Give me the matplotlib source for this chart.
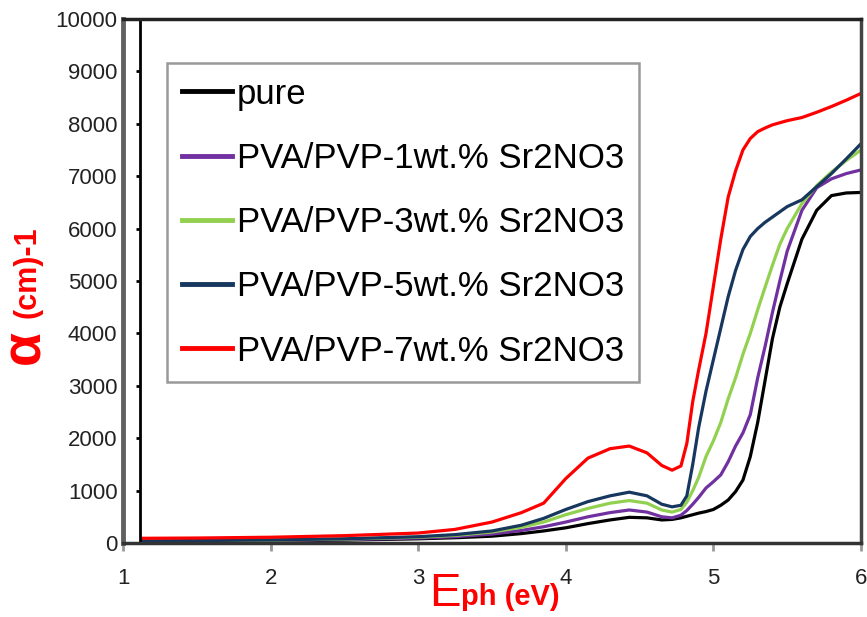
import matplotlib
matplotlib.use("Agg")
import matplotlib.pyplot as plt

plt.rcParams['font.family'] = ['Liberation Sans', 'DejaVu Sans']

# photon energy (eV)
energy = [1.13, 1.5, 2.0, 2.5, 3.0, 3.25, 3.5, 3.7, 3.85, 4.0, 4.15, 4.3, 4.43,
          4.55, 4.65, 4.72, 4.78, 4.82, 4.86, 4.9, 4.95, 5.0, 5.05, 5.1, 5.15,
          5.2, 5.25, 5.3, 5.35, 5.4, 5.45, 5.5, 5.6, 5.7, 5.8, 5.9, 6.0]

pure = [25, 30, 40, 55, 80, 100, 130, 180, 230, 290, 370, 440, 490,
        480, 440, 450, 480, 510, 540, 570, 600, 640, 720, 820, 980,
        1200, 1650, 2300, 3100, 3900, 4500, 4950, 5800, 6350, 6630, 6680, 6690]

wt1 = [30, 35, 50, 65, 95, 120, 170, 240, 310, 400, 500, 580, 630,
       590, 500, 480, 530, 620, 740, 870, 1050, 1170, 1300, 1550, 1850,
       2100, 2450, 3150, 3750, 4400, 5000, 5570, 6350, 6780, 6950, 7050, 7120]

wt3 = [35, 40, 55, 75, 110, 145, 210, 300, 400, 540, 660, 760, 810,
       760, 630, 590, 640, 780, 1000, 1250, 1650, 1950, 2300, 2750, 3150,
       3600, 4000, 4450, 4880, 5300, 5700, 6000, 6480, 6820, 7080, 7300, 7500]

wt5 = [40, 45, 60, 80, 120, 160, 230, 340, 470, 640, 790, 900, 970,
       900, 740, 690, 720, 900, 1500, 2200, 2900, 3500, 4100, 4700, 5200,
       5600, 5850, 6000, 6120, 6220, 6320, 6420, 6550, 6800, 7050, 7330, 7620]

wt7 = [90, 95, 110, 140, 190, 260, 400, 580, 760, 1230, 1620, 1800, 1850,
       1720, 1480, 1390, 1470, 1900, 2700, 3300, 4000, 4900, 5800, 6600, 7100,
       7500, 7720, 7850, 7920, 7980, 8020, 8060, 8120, 8220, 8330, 8450, 8580]

labels = ["pure", "PVA/PVP-1wt.% Sr2NO3", "PVA/PVP-3wt.% Sr2NO3",
          "PVA/PVP-5wt.% Sr2NO3", "PVA/PVP-7wt.% Sr2NO3"]
colors = ["#000000", "#7030A0", "#92D050", "#17375E", "#FF0000"]

x_ticks = [1, 2, 3, 4, 5, 6]
y_ticks = [0, 1000, 2000, 3000, 4000, 5000, 6000, 7000, 8000, 9000, 10000]

fig = plt.figure(figsize=(8.67, 6.17), dpi=100)
ax = fig.add_axes([123 / 867, 74 / 617, 738 / 867, 524 / 617])

for series, lab, col in zip([pure, wt1, wt3, wt5, wt7], labels, colors):
    ax.plot(energy, series, color=col, lw=2.3, label=lab)

ax.set_xlim(1, 6)
ax.set_ylim(0, 10000)
ax.set_xticks(x_ticks)
ax.set_yticks(y_ticks)
ax.tick_params(axis='x', direction='out', length=6, width=2, color='#999999',
               labelsize=16, pad=12, labelcolor='#222222')
ax.tick_params(axis='y', length=0, labelsize=16, pad=4, labelcolor='#222222')

# inner value axis line with its small ticks
ax.axvline(1.115, color='black', lw=2)
ax.hlines(y_ticks[1:], 1.085, 1.115, color='black', lw=2)

ax.spines['left'].set_color('#606060')
ax.spines['left'].set_linewidth(3.5)
ax.spines['top'].set_color('#222222')
ax.spines['top'].set_linewidth(2.5)
ax.spines['right'].set_color('#444444')
ax.spines['right'].set_linewidth(2.5)
ax.spines['bottom'].set_color('#333333')
ax.spines['bottom'].set_linewidth(2.5)

leg = ax.legend(loc='upper left', bbox_to_anchor=(0.0596, 0.916), fontsize=25,
                frameon=True, fancybox=False, handlelength=1.45, handletextpad=0.15,
                labelspacing=0.9, borderpad=0.42, borderaxespad=0)
leg.get_frame().set_edgecolor('#808080')
leg.get_frame().set_linewidth(1.8)
for line in leg.get_lines():
    line.set_linewidth(3.5)

# axis titles
fig.text(25 / 867, 1 - 347 / 617, "α", rotation=90, color='red', fontsize=40,
         fontweight='bold', ha='center', va='center')
fig.text(28 / 867, 1 - 272 / 617, "(cm)-1", rotation=90, color='red', fontsize=22,
         fontweight='bold', ha='center', va='center')
fig.text(429 / 867, 11 / 617, "E", color='red', fontsize=34, ha='left', va='baseline')
fig.text(461 / 867, 12 / 617, "ph (eV)", color='red', fontsize=21,
         fontweight='bold', ha='left', va='baseline')

fig.savefig("out.png", dpi=100)
